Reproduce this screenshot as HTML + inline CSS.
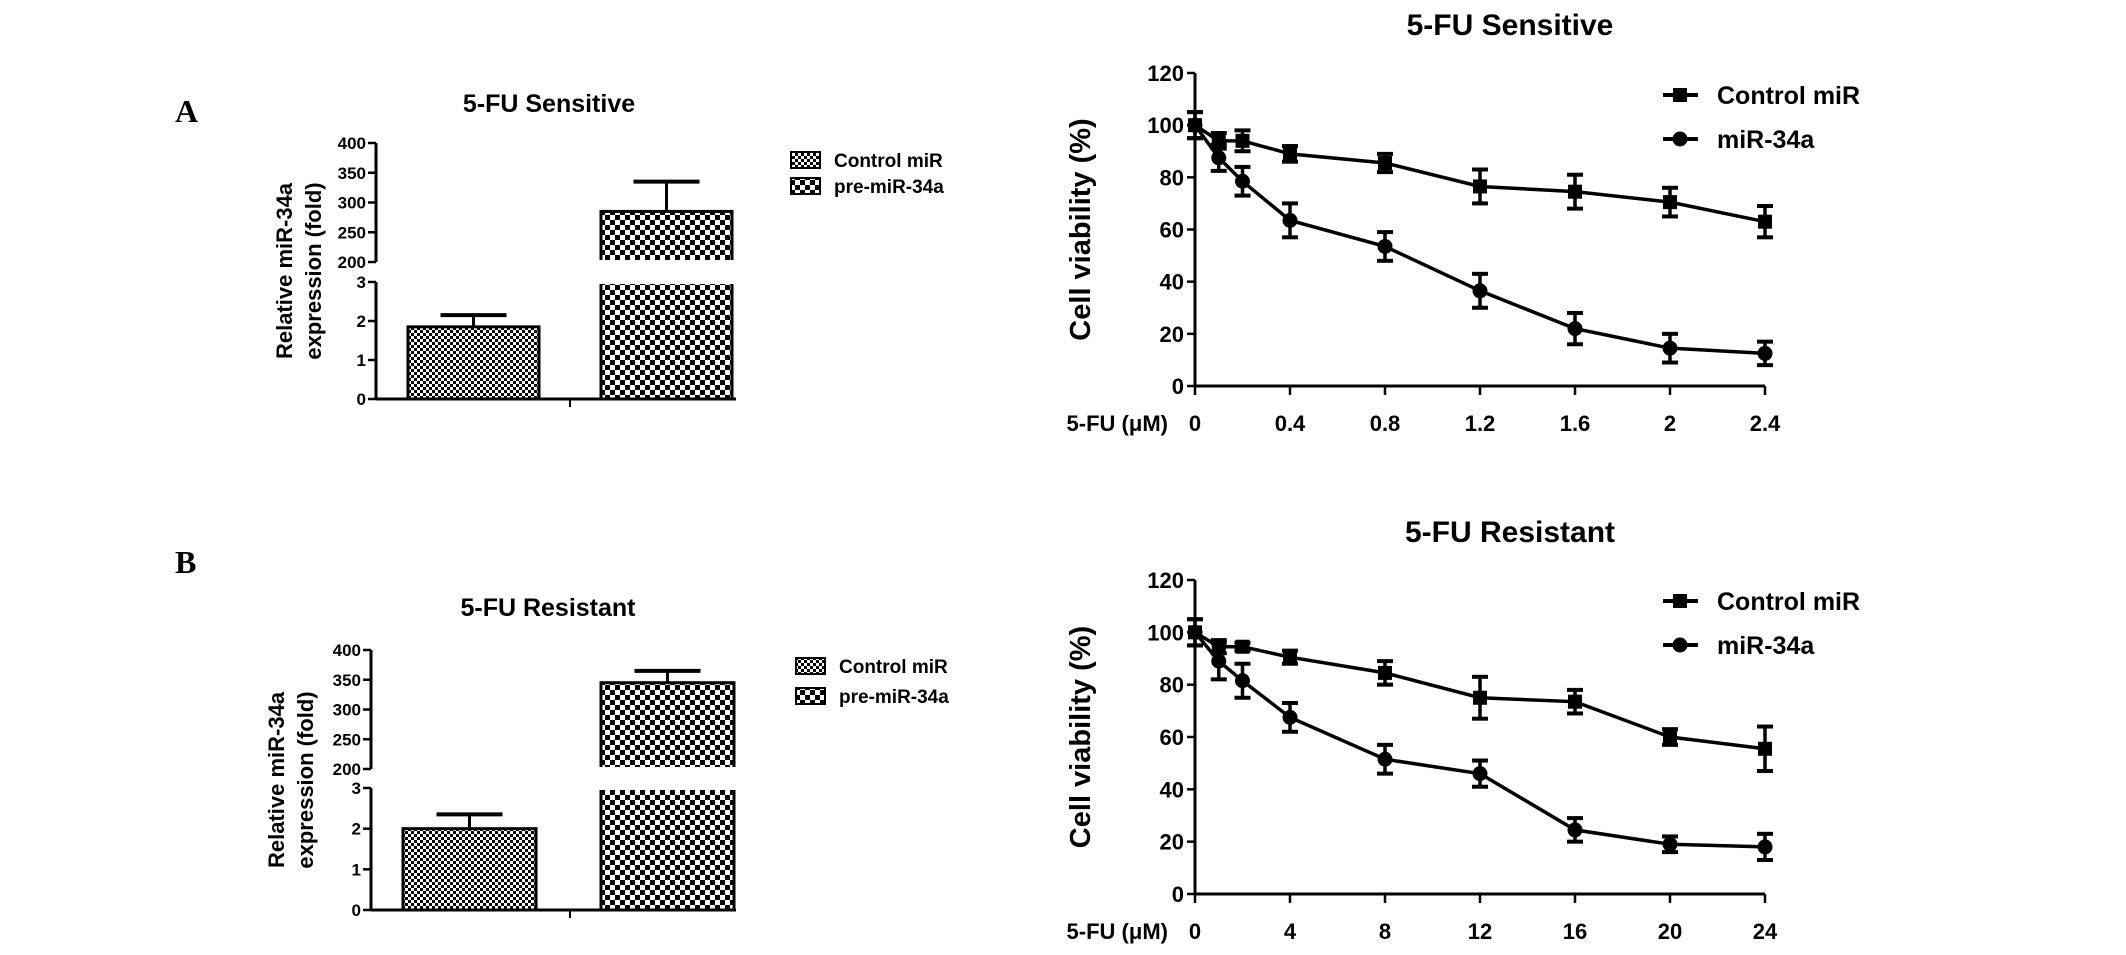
<!DOCTYPE html>
<html><head><meta charset="utf-8"><style>
html,body{margin:0;padding:0;background:#fff;}
svg{display:block;font-family:"Liberation Sans",Arial,sans-serif;}
</style></head><body>
<svg id="fig" width="2126" height="955" viewBox="0 0 2126 955">
<defs>
<pattern id="fine" width="6" height="6" patternUnits="userSpaceOnUse"><rect width="6" height="6" fill="#fff"/><rect width="3" height="3" fill="#000"/><rect x="3" y="3" width="3" height="3" fill="#000"/></pattern>
<pattern id="coarse" width="10" height="10" patternUnits="userSpaceOnUse"><rect width="10" height="10" fill="#fff"/><rect width="5" height="5" fill="#000"/><rect x="5" y="5" width="5" height="5" fill="#000"/></pattern>
</defs>
<text x="175" y="122" font-family="Liberation Serif,serif" font-weight="bold" font-size="32">A</text>
<text x="175" y="573" font-family="Liberation Serif,serif" font-weight="bold" font-size="32">B</text>
</svg>
<script>
// ---- Data ----
const barCategories = ["Control miR", "pre-miR-34a"];
const barSensValues = [1.85, 285];
const barSensErr = [0.3, 50];
const barResValues = [2.0, 345];
const barResErr = [0.35, 20];
const barLowTicks = ["0", "1", "2", "3"];
const barHighTicks = ["200", "250", "300", "350", "400"];

const doseSens = [0, 0.1, 0.2, 0.4, 0.8, 1.2, 1.6, 2, 2.4];
const sensCtrl = [100, 94, 94, 89, 85.5, 76.5, 74.5, 70.5, 63];
const sensCtrlErr = [5, 3, 4, 3, 3.5, 6.5, 6.5, 5.5, 6];
const sensMir = [100, 87.5, 78.5, 63.5, 53.5, 36.5, 22, 14.5, 12.5];
const sensMirErr = [5, 5, 5.5, 6.5, 5.5, 6.5, 6, 5.5, 4.5];
const sensXTicks = ["0", "0.4", "0.8", "1.2", "1.6", "2", "2.4"];

const doseRes = [0, 1, 2, 4, 8, 12, 16, 20, 24];
const resCtrl = [100, 94.5, 94.5, 90.5, 84.5, 75, 73.5, 60, 55.5];
const resCtrlErr = [5, 2.5, 1.5, 2.5, 4.5, 8, 4.5, 3, 8.5];
const resMir = [100, 89, 81.5, 67.5, 51.5, 46, 24.5, 19, 18];
const resMirErr = [5, 7, 6.5, 5.5, 5.5, 5, 4.5, 3, 5];
const resXTicks = ["0", "4", "8", "12", "16", "20", "24"];
const yTicks = ["0", "20", "40", "60", "80", "100", "120"];

const svg = document.getElementById('fig');
const NS = "http://www.w3.org/2000/svg";
function mk(tag, attrs, parent) {
  const e = document.createElementNS(NS, tag);
  for (const k in attrs) e.setAttribute(k, attrs[k]);
  (parent || svg).appendChild(e);
  return e;
}
function txt(x, y, s, size, anchor, parent, extra) {
  const t = mk('text', Object.assign({x: x, y: y, 'font-size': size, 'font-weight': 'bold', 'text-anchor': anchor || 'middle'}, extra || {}), parent);
  t.textContent = s;
  return t;
}

function barChart(o) {
  const g = mk('g', {});
  
  
  const ax = o.ax;
  const yLow = v => o.y0 - (v / 3) * (o.y0 - o.y3);
  const yHigh = v => o.y200 - ((v - 200) / 200) * (o.y200 - o.y400);
  const t = txt(o.cx, o.titleY, o.title, 25, 'middle', g);
  
  
  mk('line', {x1: ax, y1: o.y0, x2: ax, y2: o.y3, stroke: '#000', 'stroke-width': 3}, g);
  mk('line', {x1: ax, y1: o.y200, x2: ax, y2: o.y400, stroke: '#000', 'stroke-width': 3}, g);
  mk('line', {x1: ax, y1: o.y0, x2: o.axEnd, y2: o.y0, stroke: '#000', 'stroke-width': 3}, g);
  mk('line', {x1: o.midTick, y1: o.y0, x2: o.midTick, y2: o.y0 + 8, stroke: '#000', 'stroke-width': 2}, g);
  barLowTicks.forEach(s => {
    const y = yLow(+s);
    mk('line', {x1: ax - 8, y1: y, x2: ax, y2: y, stroke: '#000', 'stroke-width': 2.5}, g);
    txt(ax - 10, y + 6, s, 17, 'end', g);
  });
  barHighTicks.forEach(s => {
    const y = yHigh(+s);
    mk('line', {x1: ax - 8, y1: y, x2: ax, y2: y, stroke: '#000', 'stroke-width': 2.5}, g);
    txt(ax - 10, y + 6, s, 17, 'end', g);
  });
  const yt = mk('text', {transform: `translate(${o.ytX},${o.ytY}) rotate(-90)`, 'font-size': 22, 'font-weight': 'bold', 'text-anchor': 'middle'}, g);
  
  
  const ts1 = mk('tspan', {x: 0, dy: 0}, yt); ts1.textContent = 'Relative miR-34a';
  const ts2 = mk('tspan', {x: 0, dy: 29}, yt); ts2.textContent = 'expression (fold)';
  const pats = ['url(#fine)', 'url(#coarse)'];
  o.values.forEach((v, i) => {
    const x1 = o.barX[i], w = o.barW;
    const e = o.errs[i];
    if (v <= 3) {
      const top = yLow(v);
      const r = mk('rect', {x: x1, y: top, width: w, height: o.y0 - top, fill: pats[i], stroke: '#000', 'stroke-width': 3}, g);
      
      
      const ye = yLow(v + e);
      mk('line', {x1: x1 + w / 2, y1: top, x2: x1 + w / 2, y2: ye, stroke: '#000', 'stroke-width': 3}, g);
      mk('line', {x1: x1 + w / 2 - 33, y1: ye, x2: x1 + w / 2 + 33, y2: ye, stroke: '#000', 'stroke-width': 4}, g);
    } else {
      const r = mk('rect', {x: x1, y: o.y3, width: w, height: o.y0 - o.y3, fill: pats[i], stroke: '#000', 'stroke-width': 3}, g);
      
      
      mk('rect', {x: x1 - 2, y: o.y3 - 2, width: w + 4, height: 4, fill: '#fff'}, g);
      const top = yHigh(v);
      const r2 = mk('rect', {x: x1, y: top, width: w, height: o.y200 - top, fill: pats[i], stroke: '#000', 'stroke-width': 3}, g);
      
      
      mk('rect', {x: x1 - 2, y: o.y200 - 2, width: w + 4, height: 4, fill: '#fff'}, g);
      const ye = yHigh(v + e);
      mk('line', {x1: x1 + w / 2, y1: top, x2: x1 + w / 2, y2: ye, stroke: '#000', 'stroke-width': 3}, g);
      mk('line', {x1: x1 + w / 2 - 33, y1: ye, x2: x1 + w / 2 + 33, y2: ye, stroke: '#000', 'stroke-width': 4}, g);
    }
  });
  barCategories.forEach((c, i) => {
    const y = o.legY + i * o.legDy;
    const lg = mk('g', {}, g);
    
    
    mk('rect', {x: o.legX, y: y - 8, width: 29, height: 16, fill: pats[i], stroke: '#000', 'stroke-width': 2}, lg);
    txt(o.legX + 43, y + 7, c, 19, 'start', lg);
  });
}

function lineChart(o) {
  const g = mk('g', {});
  
  
  const xs = v => o.x0 + (v / o.xMax) * (o.x1 - o.x0);
  const ys = v => o.y0 - (v / 120) * (o.y0 - o.y120);
  const t = txt((o.x0 + o.x1) / 2 + 30, o.titleY, o.title, 30, 'middle', g);
  
  
  mk('line', {x1: o.x0, y1: o.y0, x2: o.x0, y2: o.y120, stroke: '#000', 'stroke-width': 3}, g);
  mk('line', {x1: o.x0, y1: o.y0, x2: o.x1, y2: o.y0, stroke: '#000', 'stroke-width': 3}, g);
  yTicks.forEach(s => {
    const y = ys(+s);
    mk('line', {x1: o.x0 - 8, y1: y, x2: o.x0, y2: y, stroke: '#000', 'stroke-width': 2.5}, g);
    txt(o.x0 - 11, y + 8, s, 22, 'end', g);
  });
  o.ticks.forEach(s => {
    const x = xs(+s);
    mk('line', {x1: x, y1: o.y0, x2: x, y2: o.y0 + 9, stroke: '#000', 'stroke-width': 2.5}, g);
    txt(x, o.y0 + 45, s, 22, 'middle', g);
  });
  const xl = txt(o.x0 - 27, o.y0 + 45, '5-FU (\u03bcM)', 22, 'end', g);
  
  
  const yt = mk('text', {transform: `translate(${o.x0 - 105},${(o.y0 + o.y120) / 2}) rotate(-90)`, 'font-size': 29, 'font-weight': 'bold', 'text-anchor': 'middle'}, g);
  yt.textContent = 'Cell viability (%)';
  
  
  const series = [[o.ctrl, o.ctrlErr, 'square', 'series-control-mir'], [o.mir, o.mirErr, 'circle', 'series-mir-34a']];
  series.forEach(([vals, errs, shape, nm]) => {
    const sg = mk('g', {}, g);
    
    
    const pts = o.dose.map((d, i) => xs(d) + ',' + ys(vals[i])).join(' ');
    mk('polyline', {points: pts, fill: 'none', stroke: '#000', 'stroke-width': 3.5}, sg);
    o.dose.forEach((d, i) => {
      const x = xs(d), y = ys(vals[i]);
      const yt1 = ys(vals[i] + errs[i]), yb = ys(vals[i] - errs[i]);
      mk('line', {x1: x, y1: yt1, x2: x, y2: yb, stroke: '#000', 'stroke-width': 3.5}, sg);
      mk('line', {x1: x - 8, y1: yt1, x2: x + 8, y2: yt1, stroke: '#000', 'stroke-width': 4}, sg);
      mk('line', {x1: x - 8, y1: yb, x2: x + 8, y2: yb, stroke: '#000', 'stroke-width': 4}, sg);
      if (shape === 'square') mk('rect', {x: x - 7, y: y - 7, width: 14, height: 14, fill: '#000'}, sg);
      else mk('circle', {cx: x, cy: y, r: 7.5, fill: '#000'}, sg);
    });
  });
  [['Control miR', 'square'], ['miR-34a', 'circle']].forEach(([lab, shape], i) => {
    const y = o.legY + i * 44;
    const lg = mk('g', {}, g);
    
    
    mk('line', {x1: o.legX, y1: y, x2: o.legX + 35, y2: y, stroke: '#000', 'stroke-width': 4}, lg);
    if (shape === 'square') mk('rect', {x: o.legX + 10, y: y - 7, width: 14, height: 14, fill: '#000'}, lg);
    else mk('circle', {cx: o.legX + 17, cy: y, r: 7.5, fill: '#000'}, lg);
    txt(o.legX + 54, y + 9, lab, 25, 'start', lg);
  });
}

barChart({name: 'bar-chart-sensitive', title: '5-FU Sensitive', cx: 549, titleY: 112, ax: 376, axEnd: 736, midTick: 570,
  y0: 399, y3: 282, y200: 262, y400: 143, values: barSensValues, errs: barSensErr, barX: [408, 601], barW: 131,
  ytX: 292, ytY: 271, legX: 791, legY: 160, legDy: 26});
barChart({name: 'bar-chart-resistant', title: '5-FU Resistant', cx: 548, titleY: 616, ax: 371, axEnd: 736, midTick: 570,
  y0: 910, y3: 788, y200: 769, y400: 650, values: barResValues, errs: barResErr, barX: [403, 601], barW: 133,
  ytX: 284, ytY: 780, legX: 796, legY: 666, legDy: 30});
lineChart({name: 'line-chart-sensitive', title: '5-FU Sensitive', titleY: 35, x0: 1195, x1: 1765, xMax: 2.4, y0: 386, y120: 73,
  dose: doseSens, ctrl: sensCtrl, ctrlErr: sensCtrlErr, mir: sensMir, mirErr: sensMirErr, ticks: sensXTicks, legX: 1663, legY: 95});
lineChart({name: 'line-chart-resistant', title: '5-FU Resistant', titleY: 542, x0: 1195, x1: 1765, xMax: 24, y0: 894, y120: 580,
  dose: doseRes, ctrl: resCtrl, ctrlErr: resCtrlErr, mir: resMir, mirErr: resMirErr, ticks: resXTicks, legX: 1663, legY: 601});
</script>
</body></html>
